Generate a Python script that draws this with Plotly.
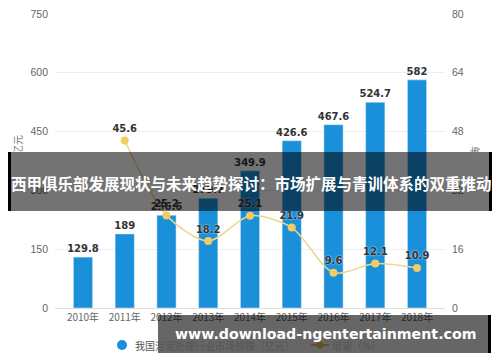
import plotly.graph_objects as go

years = ["2010年", "2011年", "2012年", "2013年", "2014年", "2015年", "2016年", "2017年", "2018年"]
market = [129.8, 189, 236.6, 279.7, 349.9, 426.6, 467.6, 524.7, 582]
growth_years = ["2011年", "2012年", "2013年", "2014年", "2015年", "2016年", "2017年", "2018年"]
growth = [45.6, 25.2, 18.2, 25.1, 21.9, 9.6, 12.1, 10.9]

bar_name = "我国污泥处理行业市场规模（亿元）"
line_name = "增速（%）"
banner_text = "西甲俱乐部发展现状与未来趋势探讨：市场扩展与青训体系的双重推动"
watermark = "www.download-ngentertainment.com"

FONT = "Noto Sans CJK SC"
TICKFONT = "Liberation Sans"
BLUE = "#1a90db"
YEL = "#f0d68a"
MK = "#f3cb63"

fig = go.Figure()
fig.add_trace(go.Bar(
    x=years, y=market, marker_color=BLUE, width=0.46, showlegend=False,
    text=[str(v) for v in market], textposition="outside", cliponaxis=False,
    constraintext="none",
    textfont=dict(size=10, color="#333", family="DejaVu Sans", weight="bold"),
))
fig.add_trace(go.Scatter(
    x=growth_years, y=growth, yaxis="y2", mode="lines+markers+text",
    line=dict(color=YEL, width=1.5, shape="spline", smoothing=0.8),
    marker=dict(color=MK, size=8), showlegend=False,
    text=[str(v) for v in growth], textposition="top center", cliponaxis=False,
    textfont=dict(size=10, color="#333", family="DejaVu Sans", weight="bold", shadow="0px 0px 2px white"),
))

# screen pixel -> paper coordinates (plot area spans x 55..445, y 14..308 on screen)
TOP, BOT = 14, 308
def px(x):
    return (x - 55) / 390
def py(y):
    return (BOT - y) / (BOT - TOP)

def rect(x0, x1, y0, y1, color):
    return dict(type="rect", xref="paper", yref="paper", x0=px(x0), x1=px(x1), y0=py(y1), y1=py(y0),
                fillcolor=color, line_width=0, layer="above")

shapes = [
    dict(type="circle", xref="paper", yref="paper", x0=px(117), x1=px(127), y0=py(350), y1=py(340),
         fillcolor=BLUE, line_width=0),
    dict(type="line", xref="paper", yref="paper", x0=px(311), x1=px(329), y0=py(345), y1=py(345),
         line=dict(color=MK, width=2)),
    dict(type="circle", xref="paper", yref="paper", x0=px(316.5), x1=px(323.5), y0=py(348.5), y1=py(341.5),
         fillcolor=MK, line_width=0),
    rect(11, 489, 152, 211, "rgba(0,0,0,0.55)"),
    rect(0, 11, 152, 211, "black"),
    rect(489, 500, 152, 211, "black"),
    rect(158, 488, 315, 353, "rgba(0,0,0,0.6)"),
    rect(488, 491, 315, 353, "black"),
]

def ann(text, x, y, size, color, family=FONT, angle=0, weight="normal", xanchor="center"):
    return dict(text=text, xref="paper", yref="paper", x=px(x), y=py(y), showarrow=False,
                xanchor=xanchor, yanchor="middle", textangle=angle,
                font=dict(size=size, color=color, family=family, weight=weight))

annotations = [
    ann(bar_name, 133, 345, 10, "#555", xanchor="left"),
    ann(line_name, 330, 345, 10, "#555", xanchor="left"),
    ann("单位：亿元", 17, 160, 10, "#777", angle=-90),
    ann("单位：%", 476, 165, 10, "#777", angle=90),
    ann(banner_text, 251, 183, 15.5, "white", weight="bold"),
    ann(watermark, 325, 334, 14.2, "white", family="DejaVu Sans", weight="bold"),
]

fig.update_layout(
    width=500, height=362,
    margin=dict(l=47, r=63, t=TOP - 8, b=362 - (BOT - 8), autoexpand=False),
    paper_bgcolor="white", plot_bgcolor="white",
    font=dict(family=FONT, size=10, color="#666"),
    showlegend=False,
    xaxis=dict(range=[-0.67, 8.67], showgrid=False, ticks="", showline=True, automargin=False,
               linecolor="#ddd", tickfont=dict(size=10, color="#666")),
    yaxis=dict(range=[0, 750], dtick=150, gridcolor="#eeeeee", zeroline=False, automargin=False,
               showline=False, tickfont=dict(size=10.5, color="#666", family=TICKFONT), ticklabelstandoff=6,
               ticklabeloverflow="allow"),
    yaxis2=dict(range=[0, 80], dtick=16, overlaying="y", side="right", showgrid=False, automargin=False,
                zeroline=False, tickfont=dict(size=10.5, color="#666", family=TICKFONT), ticklabelstandoff=6,
                ticklabeloverflow="allow"),
    shapes=shapes, annotations=annotations,
)

fig.write_html("out.html")
